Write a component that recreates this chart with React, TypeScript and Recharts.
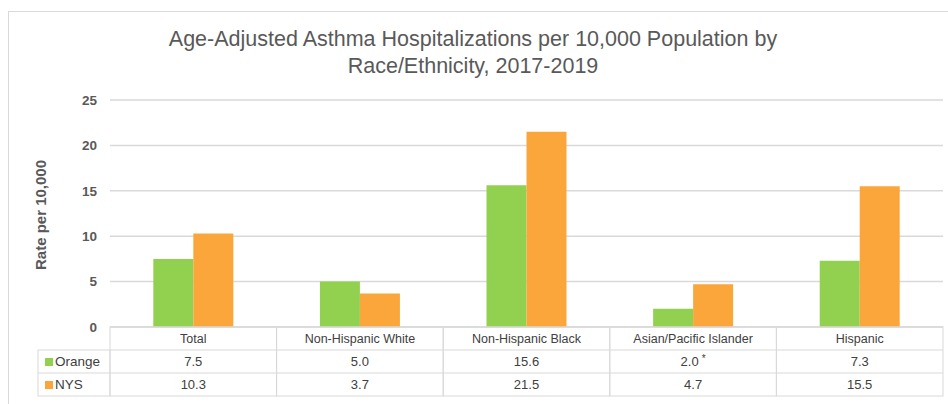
import { BarChart, Bar, XAxis, YAxis, CartesianGrid, Label } from 'recharts';

const categories = [
  'Total',
  'Non-Hispanic White',
  'Non-Hispanic Black',
  'Asian/Pacific Islander',
  'Hispanic',
];
const orangeValues = [7.5, 5.0, 15.6, 2.0, 7.3];
const nysValues = [10.3, 3.7, 21.5, 4.7, 15.5];
const orangeNotes = ['', '', '', '*', ''];
const yTicks = [0, 5, 10, 15, 20, 25];

const GREEN = '#92D050';
const ORANGE = '#FBA63B';
const GRID = '#d9d9d9';
const TEXT = '#595959';
const CELL_TEXT = '#404040';
const FONT = '"Liberation Sans", Arial, sans-serif';

const W = 948;
const H = 404;
const MARGIN = { top: 100, right: 5, bottom: 8, left: 40 };
const Y_AXIS_W = 70;
const COL_W = (W - MARGIN.left - Y_AXIS_W - MARGIN.right) / categories.length;
const ROW_H = 23;

const data = categories.map((name, i) => ({
  name,
  orange: orangeValues[i],
  nys: nysValues[i],
  note: orangeNotes[i],
}));

// x axis tick doubles as the data table column
const TableTick = (props: any) => {
  const { x, y, payload } = props;
  const i = payload.index;
  const d = data[i];
  const left = x - COL_W / 2;
  return (
    <g>
      <rect x={left} y={y} width={COL_W} height={ROW_H * 3} fill="none" stroke={GRID} />
      <line x1={left} x2={left + COL_W} y1={y + ROW_H} y2={y + ROW_H} stroke={GRID} />
      <line x1={left} x2={left + COL_W} y1={y + ROW_H * 2} y2={y + ROW_H * 2} stroke={GRID} />
      <text x={x} y={y + 16} textAnchor="middle" fontSize={12.5} fill={CELL_TEXT} fontFamily={FONT}>
        {d.name}
      </text>
      <text x={x} y={y + ROW_H + 16} textAnchor="middle" fontSize={13} fill={CELL_TEXT} fontFamily={FONT}>
        {d.orange.toFixed(1)}
        {d.note && (
          <tspan fontSize={10} dy={-4} dx={3}>
            {d.note}
          </tspan>
        )}
      </text>
      <text x={x} y={y + ROW_H * 2 + 16} textAnchor="middle" fontSize={13} fill={CELL_TEXT} fontFamily={FONT}>
        {d.nys.toFixed(1)}
      </text>
      {i === 0 && (
        <g>
          <rect x={38} y={y + ROW_H} width={left - 38} height={ROW_H * 2} fill="none" stroke={GRID} />
          <line x1={38} x2={left} y1={y + ROW_H * 2} y2={y + ROW_H * 2} stroke={GRID} />
          <rect x={45} y={y + ROW_H + 8} width={8} height={8} fill={GREEN} />
          <text x={55} y={y + ROW_H + 16} fontSize={13.5} fill={CELL_TEXT} fontFamily={FONT}>
            Orange
          </text>
          <rect x={45} y={y + ROW_H * 2 + 8} width={8} height={8} fill={ORANGE} />
          <text x={55} y={y + ROW_H * 2 + 16} fontSize={13.5} fill={CELL_TEXT} fontFamily={FONT}>
            NYS
          </text>
        </g>
      )}
    </g>
  );
};

export default function App() {
  return (
    <div style={{ position: 'absolute', left: 0, top: 0, width: W, height: H, background: '#fff' }}>
      <div
        style={{
          position: 'absolute',
          left: 8,
          top: 11,
          right: 0,
          bottom: 0,
          borderTop: `1px solid ${GRID}`,
          borderLeft: `1px solid ${GRID}`,
        }}
      />
      <div
        style={{
          position: 'absolute',
          left: 0,
          top: 26,
          width: 946,
          textAlign: 'center',
          fontFamily: FONT,
          fontSize: 21.5,
          lineHeight: '27px',
          color: TEXT,
        }}
      >
        Age-Adjusted Asthma Hospitalizations per 10,000 Population by
        <br />
        Race/Ethnicity, 2017-2019
      </div>
      <div style={{ position: 'absolute', left: 0, top: 0 }}>
        <BarChart
          width={W}
          height={H}
          data={data}
          margin={MARGIN}
          barCategoryGap="26%"
          barGap={0}
        >
          <CartesianGrid vertical={false} stroke={GRID} strokeWidth={1.5} />
          <XAxis
            dataKey="name"
            height={69}
            axisLine={{ stroke: GRID }}
            tickLine={false}
            tickSize={0}
            tickMargin={0}
            interval={0}
            tick={<TableTick />}
          />
          <YAxis
            width={Y_AXIS_W}
            domain={[0, 25]}
            ticks={yTicks}
            axisLine={false}
            tickLine={false}
            tickSize={0}
            tickMargin={13}
            tick={{ fill: TEXT, fontSize: 13.5, fontWeight: 'bold', fontFamily: FONT }}
          >
            <Label
              content={() => (
                <text
                  x={46}
                  y={215}
                  transform="rotate(-90 46 215)"
                  textAnchor="middle"
                  fontSize={15}
                  fontWeight="bold"
                  fill={TEXT}
                  fontFamily={FONT}
                >
                  Rate per 10,000
                </text>
              )}
            />
          </YAxis>
          <Bar dataKey="orange" name="Orange" fill={GREEN} isAnimationActive={false} />
          <Bar dataKey="nys" name="NYS" fill={ORANGE} isAnimationActive={false} />
        </BarChart>
      </div>
    </div>
  );
}
